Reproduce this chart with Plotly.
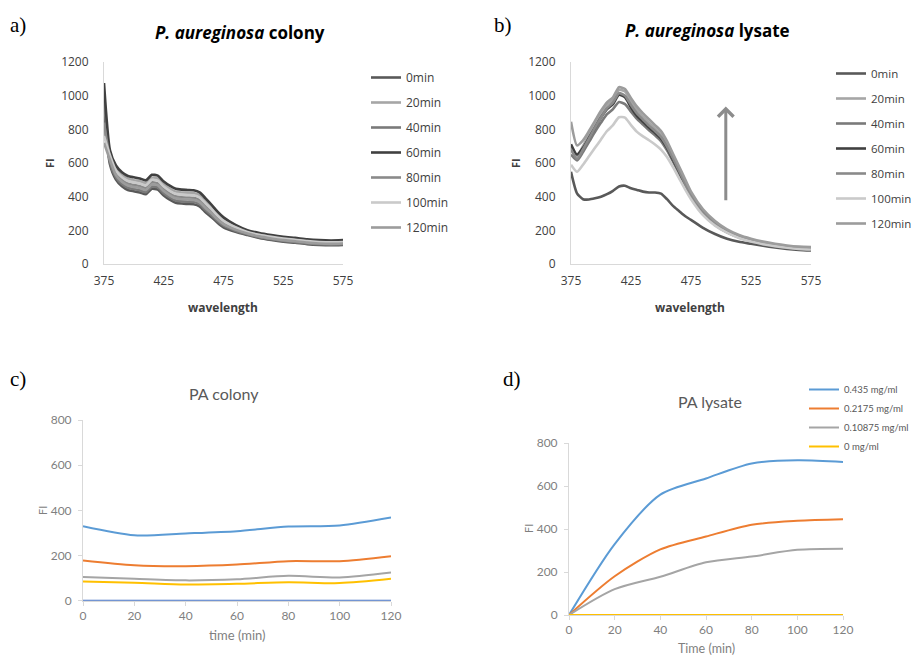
import plotly.graph_objects as go

# ---------------- data ----------------
wavelength = [375, 380, 385, 390, 395, 400, 405, 410, 415, 420, 425, 430, 435, 440, 445,
              450, 455, 460, 465, 470, 475, 485, 495, 505, 515, 525, 535, 545, 555, 565, 575]

series_names = ["0min", "20min", "40min", "60min", "80min", "100min", "120min"]

colony_0 = [900, 592, 502, 462, 440, 432, 425, 414, 447, 442, 407, 382, 364, 359, 357, 355, 342, 307, 278, 245, 218, 191, 172, 155, 143, 133, 126, 118, 113, 111, 113]
colony_20 = [800, 658, 568, 528, 506, 498, 491, 480, 513, 508, 473, 448, 430, 425, 423, 421, 408, 373, 337, 297, 265, 224, 195, 178, 166, 156, 149, 141, 136, 134, 136]
colony_40 = [985, 605, 515, 475, 453, 445, 438, 427, 460, 455, 420, 395, 377, 372, 370, 368, 355, 320, 290, 255, 228, 198, 176, 159, 147, 137, 130, 122, 117, 115, 117]
colony_60 = [1075, 675, 585, 545, 523, 515, 508, 497, 530, 525, 490, 465, 447, 442, 440, 438, 425, 390, 352, 311, 277, 232, 201, 184, 172, 162, 155, 147, 142, 140, 142]
colony_80 = [840, 630, 540, 500, 478, 470, 463, 452, 485, 480, 445, 420, 402, 397, 395, 393, 380, 345, 312, 275, 245, 210, 185, 168, 156, 146, 139, 131, 126, 124, 126]
colony_100 = [760, 645, 555, 515, 493, 485, 478, 467, 500, 495, 460, 435, 417, 412, 410, 408, 395, 360, 326, 287, 256, 218, 190, 173, 161, 151, 144, 136, 131, 129, 131]
colony_120 = [720, 618, 528, 488, 466, 458, 451, 440, 473, 468, 433, 408, 390, 385, 383, 381, 368, 333, 301, 265, 237, 204, 181, 164, 152, 142, 135, 127, 122, 120, 122]

lysate_0 = [548, 420, 385, 383, 390, 400, 415, 435, 460, 465, 450, 440, 430, 425, 425, 418, 385, 345, 315, 285, 262, 215, 178, 150, 132, 120, 108, 98, 90, 84, 80]
lysate_20 = [700, 640, 700, 770, 830, 890, 945, 975, 1035, 1025, 965, 915, 875, 840, 805, 770, 712, 640, 565, 490, 420, 315, 245, 198, 165, 142, 126, 113, 104, 97, 93]
lysate_40 = [650, 615, 665, 725, 785, 840, 890, 920, 962, 950, 905, 862, 828, 795, 765, 730, 675, 608, 538, 462, 398, 298, 232, 188, 157, 135, 119, 107, 98, 91, 87]
lysate_60 = [711, 650, 690, 750, 810, 870, 920, 950, 1005, 990, 930, 880, 845, 810, 780, 745, 690, 620, 550, 470, 405, 305, 238, 192, 160, 138, 122, 110, 100, 92, 88]
lysate_80 = [680, 625, 680, 745, 810, 870, 925, 960, 1015, 1000, 945, 895, 858, 822, 790, 755, 698, 628, 555, 478, 410, 308, 240, 194, 162, 139, 123, 111, 101, 94, 90]
lysate_100 = [590, 548, 590, 640, 690, 740, 790, 825, 872, 870, 825, 785, 758, 735, 710, 680, 635, 575, 510, 445, 385, 290, 228, 186, 155, 133, 118, 106, 97, 90, 86]
lysate_120 = [845, 705, 735, 790, 850, 910, 960, 990, 1050, 1040, 985, 935, 895, 860, 825, 790, 730, 655, 580, 505, 430, 325, 255, 205, 172, 150, 133, 120, 110, 103, 100]

time_min = [0, 20, 40, 60, 80, 100, 120]
conc_names = ["0.435 mg/ml", "0.2175 mg/ml", "0.10875 mg/ml", "0 mg/ml"]

pa_colony_0435 = [330, 290, 298, 308, 328, 333, 368]
pa_colony_02175 = [178, 157, 153, 160, 175, 175, 197]
pa_colony_010875 = [105, 97, 90, 95, 110, 103, 125]
pa_colony_0 = [85, 80, 72, 75, 82, 78, 97]
pa_colony_base = [0, 0, 0, 0, 0, 0, 0]

pa_lysate_0435 = [0, 330, 560, 635, 705, 720, 712]
pa_lysate_02175 = [0, 180, 305, 365, 420, 438, 445]
pa_lysate_010875 = [0, 120, 178, 245, 272, 303, 308]
pa_lysate_0 = [0, 0, 0, 0, 0, 0, 0]

arrow_x = 504
arrow_y_start = 370
arrow_y_end = 935

# ---------------- styling ----------------
gray_cols = ["#595959", "#A6A6A6", "#7A7A7A", "#404040", "#8A8A8A", "#CACACA", "#9C9C9C"]
excel_cols = ["#5B9BD5", "#ED7D31", "#A5A5A5", "#FFC000", "#4472C4"]

W, H = 913, 656
def px(x):
    return x / W
def py(y):
    return 1 - y / H

fig = go.Figure()

colony = [colony_0, colony_20, colony_40, colony_60, colony_80, colony_100, colony_120]
lysate = [lysate_0, lysate_20, lysate_40, lysate_60, lysate_80, lysate_100, lysate_120]

for i, (name, ys) in enumerate(zip(series_names, colony)):
    fig.add_trace(go.Scatter(x=wavelength, y=ys, name=name, mode="lines",
                             line=dict(color=gray_cols[i], width=2.6, shape="spline", smoothing=0.6),
                             xaxis="x", yaxis="y", legend="legend", legendgroup="a" + name))
for i, (name, ys) in enumerate(zip(series_names, lysate)):
    fig.add_trace(go.Scatter(x=wavelength, y=ys, name=name, mode="lines",
                             line=dict(color=gray_cols[i], width=2.6, shape="spline", smoothing=0.6),
                             xaxis="x2", yaxis="y2", legend="legend2", legendgroup="b" + name))

colony_series = [pa_colony_0435, pa_colony_02175, pa_colony_010875, pa_colony_0, pa_colony_base]
for i, ys in enumerate(colony_series):
    fig.add_trace(go.Scatter(x=time_min, y=ys, mode="lines", showlegend=False,
                             line=dict(color=excel_cols[i], width=2, shape="spline", smoothing=0.8),
                             xaxis="x3", yaxis="y3"))

lysate_series = [pa_lysate_0435, pa_lysate_02175, pa_lysate_010875, pa_lysate_0]
for i, (name, ys) in enumerate(zip(conc_names, lysate_series)):
    fig.add_trace(go.Scatter(x=time_min, y=ys, name=name, mode="lines",
                             line=dict(color=excel_cols[i], width=2, shape="spline", smoothing=0.8),
                             xaxis="x4", yaxis="y4", legend="legend3", legendgroup="d" + name))

ab_font = "Open Sans"
cd_font = "Lato"

def ab_xaxis(dom, anchor):
    return dict(domain=dom, anchor=anchor, range=[375, 575], tickvals=[375, 425, 475, 525, 575],
                showline=True, linecolor="#D9D9D9", linewidth=1, ticks="", showgrid=False,
                zeroline=False, tickfont=dict(family=ab_font, size=12, color="#404040"),
                ticklabelstandoff=6)

def ab_yaxis(dom, anchor):
    return dict(domain=dom, anchor=anchor, range=[0, 1200], dtick=200,
                showline=True, linecolor="#D9D9D9", linewidth=1, ticks="", showgrid=False,
                zeroline=False, tickfont=dict(family=ab_font, size=12, color="#404040"),
                ticklabelstandoff=12)

def cd_xaxis(dom, anchor):
    return dict(domain=dom, anchor=anchor, range=[0, 120], dtick=20,
                showline=True, linecolor="#D9D9D9", linewidth=1, ticks="outside", ticklen=4,
                tickcolor="#D9D9D9", showgrid=False, zeroline=False,
                tickfont=dict(family=cd_font, size=12, color="#7F7F7F"), ticklabelstandoff=0)

def cd_yaxis(dom, anchor):
    return dict(domain=dom, anchor=anchor, range=[0, 800], dtick=200,
                showline=True, linecolor="#D9D9D9", linewidth=1, ticks="outside", ticklen=4,
                tickcolor="#D9D9D9", showgrid=False, zeroline=False,
                tickfont=dict(family=cd_font, size=12, color="#7F7F7F"), ticklabelstandoff=4)

ya_dom = [py(264), py(62)]
fig.update_layout(
    width=W, height=H,
    margin=dict(l=0, r=0, t=0, b=0, autoexpand=False),
    paper_bgcolor="white", plot_bgcolor="white",
    xaxis=ab_xaxis([px(104), px(343)], "y"),
    yaxis=ab_yaxis(ya_dom, "x"),
    xaxis2=ab_xaxis([px(571), px(811)], "y2"),
    yaxis2=ab_yaxis(ya_dom, "x2"),
    xaxis3=cd_xaxis([px(83), px(391)], "y3"),
    yaxis3=cd_yaxis([py(600.7), py(420)], "x3"),
    xaxis4=cd_xaxis([px(569), px(843)], "y4"),
    yaxis4=cd_yaxis([py(615), py(443)], "x4"),
    legend=dict(x=px(366), y=py(63), xanchor="left", yanchor="top",
                font=dict(family=ab_font, size=12, color="#404040"),
                traceorder="grouped", tracegroupgap=6, itemwidth=30, bgcolor="rgba(0,0,0,0)"),
    legend2=dict(x=px(831), y=py(59), xanchor="left", yanchor="top",
                 font=dict(family=ab_font, size=11.5, color="#404040"),
                 traceorder="grouped", tracegroupgap=6, itemwidth=30, bgcolor="rgba(0,0,0,0)"),
    legend3=dict(x=px(804), y=py(375), xanchor="left", yanchor="top",
                 font=dict(family=cd_font, size=9.5, color="#595959"),
                 traceorder="grouped", tracegroupgap=0, itemwidth=30, bgcolor="rgba(0,0,0,0)"),
    showlegend=True,
)

ann = []
def text(x, y, s, size, family, color="#000000", angle=0):
    ann.append(dict(x=px(x), y=py(y), xref="paper", yref="paper", text=s, showarrow=False,
                    xanchor="center", yanchor="middle", textangle=angle,
                    font=dict(size=size, family=family, color=color)))

# panel labels
serif = "Liberation Serif"
text(18, 25, "a)", 21, serif)
text(503, 25, "b)", 21, serif)
text(18, 379, "c)", 21, serif)
text(512, 379, "d)", 21, serif)
# titles
text(240, 32, "<b><i>P. aureginosa</i> colony</b>", 17, ab_font)
text(707, 31, "<b><i>P. aureginosa</i> lysate</b>", 17, ab_font)
text(224, 393, "PA colony", 16, cd_font, "#595959")
text(710, 401, "PA lysate", 16, cd_font, "#595959")
# axis titles
text(49, 163, "<b>FI</b>", 11, ab_font, "#404040", -90)
text(515, 163, "<b>FI</b>", 11, ab_font, "#404040", -90)
text(223, 307, "<b>wavelength</b>", 12, ab_font, "#404040")
text(690, 307, "<b>wavelength</b>", 12, ab_font, "#404040")
text(42, 511, "FI", 11, cd_font, "#7F7F7F", -90)
text(528, 529, "FI", 11, cd_font, "#7F7F7F", -90)
text(237, 635, "time (min)", 13, cd_font, "#7F7F7F")
text(706, 648, "Time (min)", 12.5, cd_font, "#7F7F7F")

# arrow in panel b
ann.append(dict(x=arrow_x, y=arrow_y_end, ax=arrow_x, ay=arrow_y_start,
                xref="x2", yref="y2", axref="x2", ayref="y2", text="",
                showarrow=True, arrowhead=4, arrowsize=1.0, arrowwidth=3, arrowcolor="#8C8C8C"))

fig.update_layout(annotations=ann)
fig.write_html("out.html")
